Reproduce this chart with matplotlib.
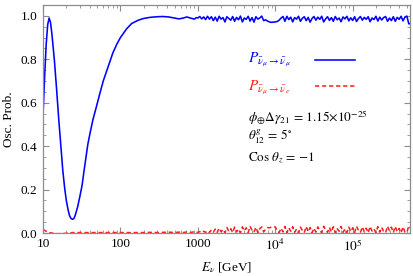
import numpy as np
import matplotlib
matplotlib.use("Agg")
import matplotlib.pyplot as plt
from matplotlib.ticker import FixedLocator, FixedFormatter, NullFormatter
from matplotlib.lines import Line2D

plt.rcParams['font.family'] = ['Liberation Serif', 'DejaVu Serif']
plt.rcParams['mathtext.fontset'] = 'stix'

# ---------------- data ----------------
# low-energy part (E in GeV)
E_lo = [10, 10.5, 11, 11.5, 12, 12.5, 13, 14, 15, 16, 17, 18, 19, 20, 21, 22, 23, 24, 25,
        26, 28, 30, 32, 34, 36, 38, 40, 44, 48, 54, 60, 70, 80, 90, 100, 120, 140, 170,
        200, 240, 300, 350, 420, 500, 570, 650, 720, 800, 900, 960]
P_mumu_lo = [0.54, 0.72, 0.87, 0.96, 0.99, 0.97, 0.92, 0.80, 0.66, 0.52, 0.40, 0.29, 0.21,
             0.15, 0.11, 0.08, 0.067, 0.063, 0.066,
             0.08, 0.12, 0.17, 0.22, 0.29, 0.35, 0.41, 0.45, 0.52, 0.57, 0.64, 0.70, 0.77,
             0.83, 0.87, 0.90, 0.94, 0.965, 0.98,
             0.988, 0.993, 0.996, 0.997, 0.995, 0.99, 0.986, 0.99, 0.995, 0.99, 0.985, 0.992]
P_mue_lo = [0.015, 0.012, 0.008, 0.005, 0.003, 0.001, 0.0, -0.002, -0.003, -0.003, -0.003,
            -0.002, -0.002, -0.001, 0.0, 0.001, 0.001, 0.002, 0.002,
            0.002, 0.002, 0.002, 0.002, 0.002, 0.002, 0.002, 0.002, 0.002, 0.002, 0.002,
            0.002, 0.002, 0.002, 0.002, 0.002, 0.002, 0.002, 0.002,
            0.002, 0.003, 0.002, 0.003, 0.004, 0.002, 0.004, 0.002, 0.005, 0.002, 0.006, 0.003]

# high-energy part, log10(E/GeV)
logE_hi = [3.000, 3.025, 3.050, 3.075, 3.100, 3.125, 3.150, 3.175, 3.200, 3.225,
           3.250, 3.275, 3.300, 3.325, 3.350, 3.375, 3.400, 3.425, 3.450, 3.475,
           3.500, 3.525, 3.550, 3.575, 3.600, 3.625, 3.650, 3.675, 3.700, 3.725,
           3.750, 3.775, 3.800, 3.825, 3.850, 3.875, 3.900, 3.925, 3.950, 3.975,
           4.000, 4.025, 4.050, 4.075, 4.100, 4.125, 4.150, 4.175, 4.200, 4.225,
           4.250, 4.275, 4.300, 4.325, 4.350, 4.375, 4.400, 4.425, 4.450, 4.475,
           4.500, 4.525, 4.550, 4.575, 4.600, 4.625, 4.650, 4.675, 4.700, 4.725,
           4.750, 4.775, 4.800, 4.825, 4.850, 4.875, 4.900, 4.925, 4.950, 4.975,
           5.000, 5.025, 5.050, 5.075, 5.100, 5.125, 5.150, 5.175, 5.200, 5.225,
           5.250, 5.275, 5.300, 5.325, 5.350, 5.375, 5.400, 5.425, 5.450, 5.475,
           5.500, 5.525, 5.550, 5.575, 5.600, 5.625, 5.650, 5.675, 5.700, 5.725, 5.750]
P_mumu_hi = [0.990, 0.997, 0.986, 0.995, 0.983, 0.998, 0.985, 0.996, 0.978, 0.994,
             0.976, 0.998, 0.985, 0.992, 0.972, 0.996, 0.988, 0.980, 0.997, 0.975,
             0.993, 0.982, 0.999, 0.972, 0.990, 0.984, 0.998, 0.976, 0.992, 0.971,
             0.996, 0.985, 0.990, 0.999, 0.978, 0.982, 0.976, 0.972, 0.970, 0.971,
             0.972, 0.974, 0.980, 0.990, 0.997, 0.975, 0.998, 0.983, 0.994, 0.972,
             0.992, 0.985, 0.998, 0.975, 0.989, 0.996, 0.978, 0.993, 0.971, 0.988,
             0.997, 0.980, 0.994, 0.984, 0.998, 0.972, 0.986, 0.996, 0.979, 0.992,
             0.975, 0.997, 0.982, 0.990, 0.973, 0.995, 0.986, 0.998, 0.977, 0.991,
             0.979, 0.996, 0.974, 0.988, 0.997, 0.980, 0.993, 0.984, 0.996, 0.973,
             0.990, 0.983, 0.998, 0.976, 0.994, 0.981, 0.992, 0.997, 0.975, 0.990,
             0.978, 0.996, 0.975, 0.993, 0.984, 0.998, 0.977, 0.994, 0.999, 0.963, 0.966]
P_mue_hi = [0.003, 0.006, 0.002, 0.008, 0.003, 0.010, 0.002, 0.014, 0.004, 0.018,
            0.003, 0.022, 0.006, 0.016, 0.001, 0.025, 0.008, 0.020, 0.002, 0.027,
            0.005, 0.018, 0.001, 0.028, 0.010, 0.024, 0.002, 0.030, 0.012, 0.004,
            0.026, 0.002, 0.020, 0.028, 0.006, 0.016, 0.025, 0.024, 0.027, 0.026,
            0.028, 0.010, 0.002, 0.022, 0.005, 0.030, 0.001, 0.024, 0.008, 0.029,
            0.003, 0.018, 0.001, 0.027, 0.012, 0.002, 0.030, 0.006, 0.025, 0.001,
            0.022, 0.004, 0.028, 0.010, 0.002, 0.031, 0.015, 0.003, 0.026, 0.005,
            0.029, 0.001, 0.020, 0.008, 0.030, 0.003, 0.018, 0.002, 0.027, 0.007,
            0.024, 0.002, 0.031, 0.012, 0.003, 0.028, 0.005, 0.022, 0.001, 0.030,
            0.009, 0.019, 0.002, 0.029, 0.004, 0.026, 0.007, 0.001, 0.031, 0.011,
            0.027, 0.002, 0.030, 0.006, 0.021, 0.001, 0.028, 0.004, 0.003, 0.033, 0.020]

x_ticks = [10, 100, 1000, 1e4, 1e5]
x_tick_labels = ['10', '100', '1000', r'$10^{4}$', r'$10^{5}$']
y_ticks = [0.0, 0.2, 0.4, 0.6, 0.8, 1.0]
y_tick_labels = ['0.0', '0.2', '0.4', '0.6', '0.8', '1.0']

label_mumu = r'$P_{\bar{\nu}_{\mu}\rightarrow\bar{\nu}_{\mu}}$'
label_mue = r'$P_{\bar{\nu}_{\mu}\rightarrow\bar{\nu}_{e}}$'
info_lines = [r'$\phi_{\oplus}\Delta\gamma_{21}\,=\,1.15{\times}10^{-25}$',
              r'$\theta_{12}^{g}\,=\,5^{\circ}$',
              r'$\mathrm{Cos}\ \theta_{z}\,=\,{-}1$']

# ---------------- plot ----------------
E_all = np.array(E_lo + list(10 ** np.array(logE_hi)))
Pmm = np.array(P_mumu_lo + P_mumu_hi)
Pme = np.array(P_mue_lo + P_mue_hi)

fig = plt.figure(figsize=(4.13, 2.76), dpi=100)
ax = fig.add_axes([43/413, 1 - 233/276, 367/413, 228/276])

blue = '#0000ff'
red = '#ff1a1a'
ax.plot(E_all, Pmm, color=blue, lw=1.15)
ax.plot(E_all, Pme, color=red, lw=1.1, dashes=(2.8, 1.8))

ax.set_xscale('log')
ax.set_xlim(10, 5.5e5)
ax.set_ylim(0, 1.05)

frame = '#8c8c8c'
for s in ax.spines.values():
    s.set_color(frame)
    s.set_linewidth(0.9)

ax.xaxis.set_major_locator(FixedLocator(x_ticks))
ax.xaxis.set_major_formatter(FixedFormatter(x_tick_labels))
ax.xaxis.set_minor_locator(FixedLocator(
    [m * 10 ** d for d in range(1, 6) for m in range(2, 10)]))
ax.xaxis.set_minor_formatter(NullFormatter())
ax.yaxis.set_major_locator(FixedLocator(y_ticks))
ax.yaxis.set_major_formatter(FixedFormatter(y_tick_labels))
ax.yaxis.set_minor_locator(FixedLocator(np.arange(0, 1.051, 0.05)))

ax.tick_params(which='both', direction='in', top=True, right=True, color=frame,
               labelsize=9.5, labelcolor='black')
ax.tick_params(which='major', length=4, width=0.8)
ax.tick_params(which='minor', length=2.2, width=0.6)
ax.tick_params(axis='x', pad=3.5)
ax.tick_params(axis='y', pad=4)

ax.set_xlabel(r'$E_{\nu}$ [GeV]', fontsize=9.5, labelpad=5)
ax.set_ylabel('Osc. Prob.', fontsize=9.5, labelpad=4)

# legend-like annotation
ax.text(0.559, 0.759, label_mumu, color=blue, fontsize=11, transform=ax.transAxes,
        va='center', ha='left')
ax.text(0.559, 0.636, label_mue, color=red, fontsize=11, transform=ax.transAxes,
        va='center', ha='left')
ax.add_line(Line2D([0.741, 0.850], [0.759, 0.759], color=blue, lw=1.15,
                   transform=ax.transAxes))
ax.add_line(Line2D([0.741, 0.850], [0.646, 0.646], color=red, lw=1.1,
                   dashes=(2.8, 1.8), transform=ax.transAxes))

for txt, yy in zip(info_lines, [0.504, 0.421, 0.329]):
    ax.text(0.559, yy, txt, color='black', fontsize=9.5, transform=ax.transAxes,
            va='center', ha='left')

fig.savefig('out.png', dpi=100)
